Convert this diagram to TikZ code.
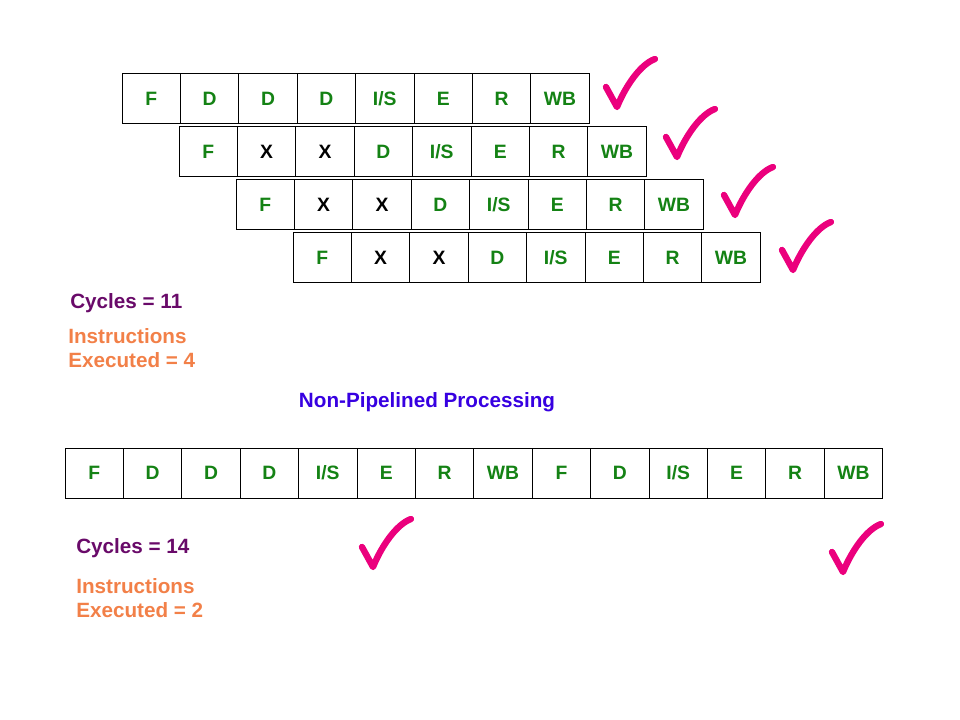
\documentclass[tikz,border=0pt]{standalone}
\usepackage{fontspec}
\setmainfont{Liberation Sans}
\usetikzlibrary{positioning}

\definecolor{stageGreen}{RGB}{20,130,20}
\definecolor{cyclePurple}{RGB}{105,10,105}
\definecolor{countOrange}{RGB}{242,128,72}
\definecolor{titleBlue}{RGB}{55,0,225}
\definecolor{tickPink}{RGB}{235,0,125}

\begin{document}
\begin{tikzpicture}
    [x=0.75pt,y=-0.75pt,inner sep=0pt,
      cell/.style={rectangle,draw=black,line width=0.75pt,outer sep=0pt,
        minimum width=43.8pt,minimum height=37.5pt,text=stageGreen,
        font=\fontsize{14.5}{16}\selectfont\bfseries},
      stall/.style={cell,text=black},
      label/.style={anchor=west,align=left,
        font=\fontsize{15.5}{18}\selectfont\bfseries},
      checkmark/.pic={
        \draw [tickPink,line width=4.8pt,line cap=round,line join=round]
        (-11,-20) -- (0,0) .. controls (9,-22) and (24,-43) .. (38,-48);
      }
    ]
    % pipelined rows
    \path (151.2,99) node [cell] (pipeA1) {F}
    ++(58.4,0) node [cell] (pipeA2) {D}
    ++(58.4,0) node [cell] (pipeA3) {D}
    ++(58.4,0) node [cell] (pipeA4) {D}
    ++(58.4,0) node [cell] (pipeA5) {I/S}
    ++(58.4,0) node [cell] (pipeA6) {E}
    ++(58.4,0) node [cell] (pipeA7) {R}
    ++(58.4,0) node [cell] (pipeA8) {WB};

    \path (208.2,152) node [cell] (pipeB1) {F}
    ++(58.4,0) node [stall] (pipeB2) {X}
    ++(58.4,0) node [stall] (pipeB3) {X}
    ++(58.4,0) node [cell] (pipeB4) {D}
    ++(58.4,0) node [cell] (pipeB5) {I/S}
    ++(58.4,0) node [cell] (pipeB6) {E}
    ++(58.4,0) node [cell] (pipeB7) {R}
    ++(58.4,0) node [cell] (pipeB8) {WB};

    \path (265.2,205) node [cell] (pipeC1) {F}
    ++(58.4,0) node [stall] (pipeC2) {X}
    ++(58.4,0) node [stall] (pipeC3) {X}
    ++(58.4,0) node [cell] (pipeC4) {D}
    ++(58.4,0) node [cell] (pipeC5) {I/S}
    ++(58.4,0) node [cell] (pipeC6) {E}
    ++(58.4,0) node [cell] (pipeC7) {R}
    ++(58.4,0) node [cell] (pipeC8) {WB};

    \path (322.2,258) node [cell] (pipeD1) {F}
    ++(58.4,0) node [stall] (pipeD2) {X}
    ++(58.4,0) node [stall] (pipeD3) {X}
    ++(58.4,0) node [cell] (pipeD4) {D}
    ++(58.4,0) node [cell] (pipeD5) {I/S}
    ++(58.4,0) node [cell] (pipeD6) {E}
    ++(58.4,0) node [cell] (pipeD7) {R}
    ++(58.4,0) node [cell] (pipeD8) {WB};

    \pic at (617,107) {checkmark};
    \pic at (677,157) {checkmark};
    \pic at (735,215) {checkmark};
    \pic at (793,270) {checkmark};

    \node [label,text=cyclePurple] (cyclesTop) at (70,303) {Cycles = 11};
    \node [label,text=countOrange] (instrTop) at (68,348)
    {Instructions\\Executed = 4};

    \node [font=\fontsize{15.5}{18}\selectfont\bfseries,text=titleBlue]
    (title) at (427,402) {Non-Pipelined Processing};

    % non-pipelined row
    \path (94.2,473) node [cell] (seq1) {F}
    ++(58.4,0) node [cell] (seq2) {D}
    ++(58.4,0) node [cell] (seq3) {D}
    ++(58.4,0) node [cell] (seq4) {D}
    ++(58.4,0) node [cell] (seq5) {I/S}
    ++(58.4,0) node [cell] (seq6) {E}
    ++(58.4,0) node [cell] (seq7) {R}
    ++(58.4,0) node [cell] (seq8) {WB}
    ++(58.4,0) node [cell] (seq9) {F}
    ++(58.4,0) node [cell] (seq10) {D}
    ++(58.4,0) node [cell] (seq11) {I/S}
    ++(58.4,0) node [cell] (seq12) {E}
    ++(58.4,0) node [cell] (seq13) {R}
    ++(58.4,0) node [cell] (seq14) {WB};

    \pic at (373,567) {checkmark};
    \pic at (843,572) {checkmark};

    \node [label,text=cyclePurple] (cyclesBottom) at (76,548) {Cycles = 14};
    \node [label,text=countOrange] (instrBottom) at (76,598)
    {Instructions\\Executed = 2};

    \useasboundingbox (0,0) rectangle (960,720);
  \end{tikzpicture}
\end{document}
